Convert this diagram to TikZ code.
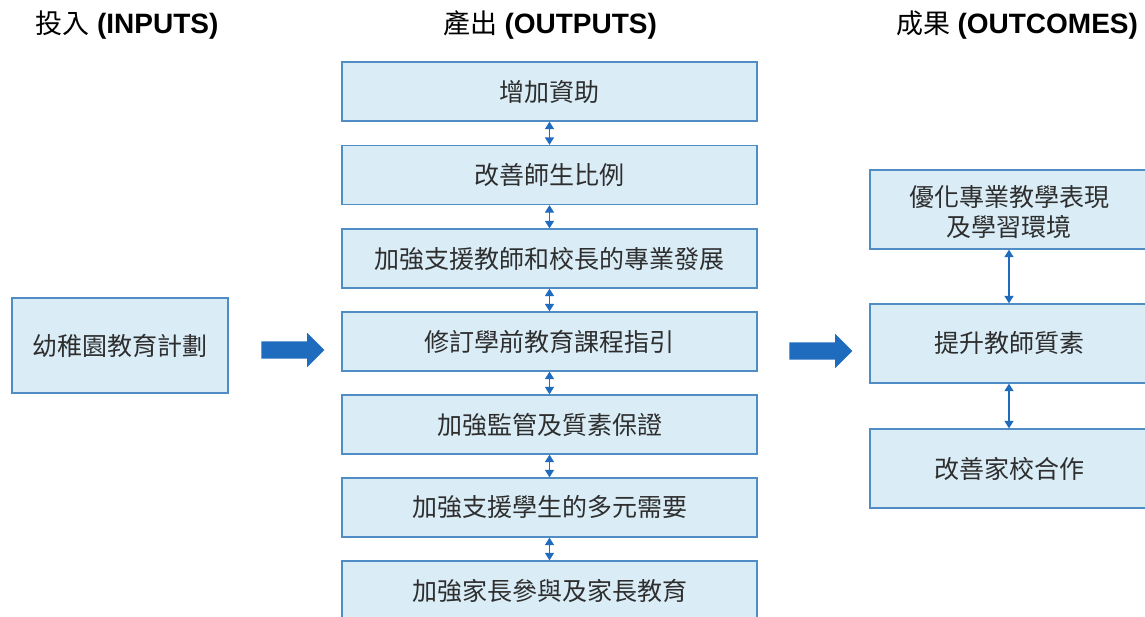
\documentclass[tikz,border=0pt]{standalone}
\usepackage{fontspec}
\setmainfont{Liberation Sans}
\newfontfamily\cjk{Noto Sans CJK TC}
\usetikzlibrary{arrows.meta,shapes.arrows}
\definecolor{boxfill}{HTML}{DAEDF7}
\definecolor{boxline}{HTML}{4F8DC4}
\definecolor{arrowblue}{HTML}{1F6CBF}
\definecolor{txt}{HTML}{2E2E2E}
\tikzset{
  box/.style={draw=boxline, fill=boxfill, line width=1.3pt, text=txt,
    font=\fontsize{25}{30}\selectfont\cjk, align=center, inner sep=0pt},
  boxtext/.style={text=txt, font=\fontsize{25}{30}\selectfont\cjk, align=center, inner sep=0pt},
  midbox/.style={box, minimum width=415pt, minimum height=59pt},
  outbox/.style={box, minimum width=278pt, minimum height=79pt},
  header/.style={anchor=base, font=\fontsize{27}{30}\selectfont, text=black, inner sep=0pt},
  link/.style={draw=arrowblue, line width=1.3pt, {Triangle[width=9pt,length=7.5pt]}-{Triangle[width=9pt,length=7.5pt]}},
  bigarrow/.style={single arrow, fill=arrowblue, draw=none, inner sep=8.5pt,
    minimum width=34pt, single arrow head extend=8.5pt, minimum height=63pt}
}
\begin{document}
\begin{tikzpicture}[x=1pt,y=-1pt]
\useasboundingbox (0,0) rectangle (1145,616);
\clip (0,0) rectangle (1145,616);
% headers
\node[header] (h1) at (127,33) {{\cjk 投入} {\fontsize{28}{30}\selectfont\bfseries (INPUTS)}};
\node[header] (h2) at (550,33) {{\cjk 產出} {\fontsize{28}{30}\selectfont\bfseries (OUTPUTS)}};
\node[header] (h3) at (1017,33) {{\cjk 成果} {\fontsize{28}{30}\selectfont\bfseries (OUTCOMES)}};
% input
\node[box, minimum width=216pt, minimum height=95pt] (in) at (120,345.5) {幼稚園教育計劃};
% outputs
\node[midbox] (o1) at (549.5,91.5) {增加資助};
\node[midbox] (o2) at (549.5,175) {改善師生比例};
\node[midbox] (o3) at (549.5,258.5) {加強支援教師和校長的專業發展};
\node[midbox] (o4) at (549.5,341.5) {修訂學前教育課程指引};
\node[midbox] (o5) at (549.5,424.5) {加強監管及質素保證};
\node[midbox] (o6) at (549.5,507.5) {加強支援學生的多元需要};
\node[midbox] (o7) at (549.5,590.5) {加強家長參與及家長教育};
% outcomes
\node[outbox] (r1) at (1009,209.5) {};
\node[boxtext] (r1t) at (1009,212) {優化專業教學表現\\及學習環境};
\node[outbox] (r2) at (1009,343.5) {提升教師質素};
\node[outbox] (r3) at (1009,468.5) {改善家校合作};
% big arrows
\node[bigarrow] (a1) at (288.5,350) {};
\node[bigarrow] (a2) at (816.5,351) {};
% links
\draw[link] (o1.south) -- (o2.north);
\draw[link] (o2.south) -- (o3.north);
\draw[link] (o3.south) -- (o4.north);
\draw[link] (o4.south) -- (o5.north);
\draw[link] (o5.south) -- (o6.north);
\draw[link] (o6.south) -- (o7.north);
\draw[link] (r1.south) -- (r2.north);
\draw[link] (r2.south) -- (r3.north);
\end{tikzpicture}
\end{document}
